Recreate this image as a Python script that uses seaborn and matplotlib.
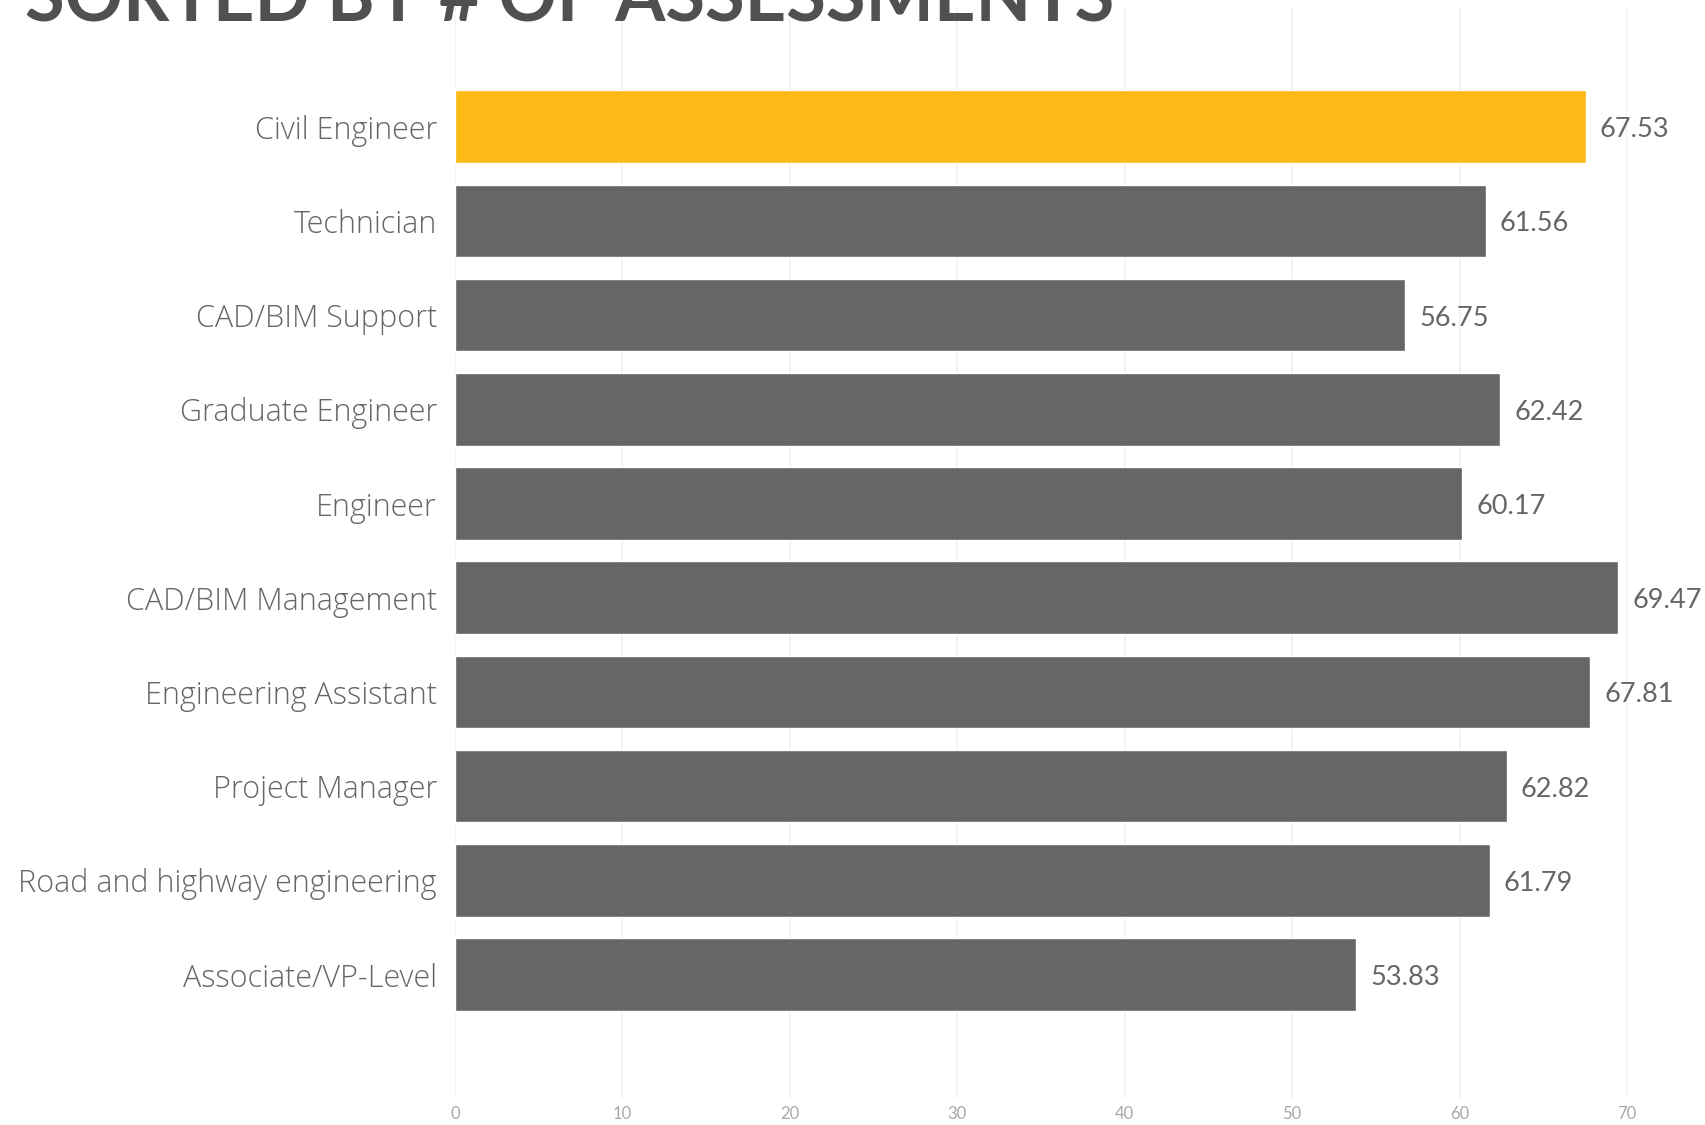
import matplotlib
matplotlib.use("Agg")
import matplotlib.pyplot as plt
import seaborn as sns
import pandas as pd

categories = ["Civil Engineer", "Technician", "CAD/BIM Support", "Graduate Engineer",
              "Engineer", "CAD/BIM Management", "Engineering Assistant", "Project Manager",
              "Road and highway engineering", "Associate/VP-Level"]
values = [67.53, 61.56, 56.75, 62.42, 60.17, 69.47, 67.81, 62.82, 61.79, 53.83]
highlight = ["yes", "no", "no", "no", "no", "no", "no", "no", "no", "no"]
xticks = [0, 10, 20, 30, 40, 50, 60, 70]
title = "SORTED BY # OF ASSESSMENTS"

df = pd.DataFrame({"role": categories, "score": values, "hl": highlight})

sns.set_theme(style="white")
plt.rcParams['font.family'] = ['Open Sans', 'DejaVu Sans']

W, H = 1706, 1125
fig = plt.figure(figsize=(W / 100, H / 100), dpi=100)
ax = fig.add_axes([455 / W, 1 - 1098 / H, (1627 - 455) / W, (1098 - 8) / H])

sns.barplot(data=df, x="score", y="role", hue="hl", palette={"yes": "#FBBA16", "no": "#666666"},
            dodge=False, legend=False, width=0.77, ax=ax, orient="h", saturation=1)

ax.set_xlim(0, 70)
ax.set_ylim(10.31, -1.26)
ax.set_xticks(xticks)
ax.set_xticklabels([str(t) for t in xticks], fontsize=12, color="#a8a8a8",
                   family=["Lato", "DejaVu Sans"])
ax.tick_params(axis="x", length=0, pad=6)
ax.tick_params(axis="y", length=0, pad=13, labelsize=22, labelcolor="#666666")
for lab in ax.get_yticklabels():
    lab.set_fontweight("light")
ax.set_xlabel("")
ax.set_ylabel("")
for s in ax.spines.values():
    s.set_visible(False)
ax.grid(axis="x", color="#f0f0f0", linewidth=1.2)
ax.set_axisbelow(True)

for i, v in enumerate(values):
    ax.annotate(f"{v:.2f}", xy=(v, i), xytext=(14, -3), textcoords="offset pixels",
                va="center", ha="left", fontsize=19.5, color="#666666",
                annotation_clip=False, family=["Lato", "DejaVu Sans"])

fig.text(25 / W, 1 - 21 / H, title, ha="left", va="baseline", fontsize=52,
         fontweight="bold", color="#505050", family=["Lato", "DejaVu Sans"])

fig.savefig("out.png", dpi=100, facecolor="white")
